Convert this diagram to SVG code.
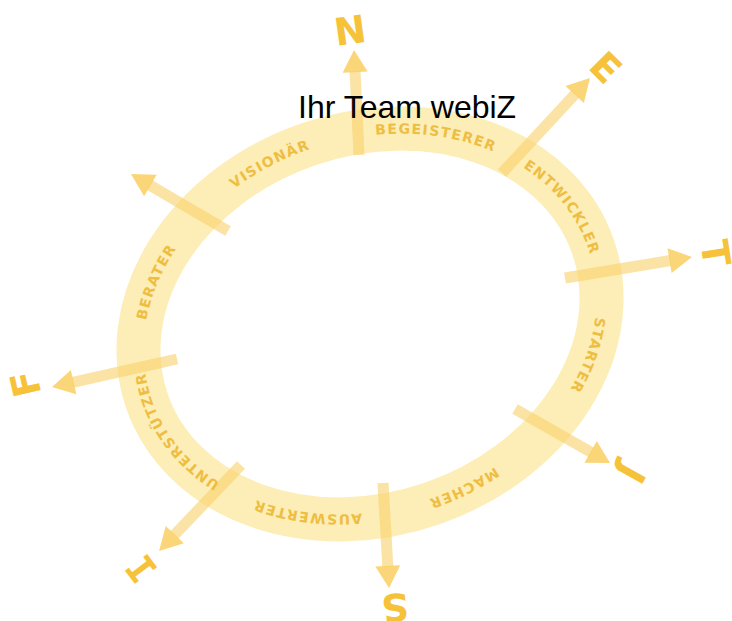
<svg xmlns="http://www.w3.org/2000/svg" width="732" height="621" viewBox="0 0 732 621">
<style>
.band{fill:none;stroke:#fdedb6;stroke-width:44}
.shaft{fill:#f9d06a;fill-opacity:0.6}
.head{fill:#f9cf60;fill-opacity:0.85}
.lbl{font-family:"DejaVu Sans",Verdana,sans-serif;font-weight:bold;font-size:14px;letter-spacing:1.5px;fill:#eebe42;dominant-baseline:central}
.big{font-family:"DejaVu Sans",Verdana,sans-serif;font-weight:bold;font-size:38px;fill:#f6c23a;text-anchor:middle}
.mono{font-family:"DejaVu Sans Mono",monospace}
.title{font-family:"Liberation Sans",Arial,sans-serif;font-size:32px;fill:#000}
</style>
<defs>
<path id="pBeg" d="M-40.97,-187.11 A236,190 0 0 1 232.41,-32.99"/>
<path id="pEnt" d="M122.60,-162.36 A236,190 0 0 1 201.66,98.71"/>
<path id="pSta" d="M227.86,-49.50 A236,190 0 0 1 61.48,183.45"/>
<path id="pMac" d="M192.13,110.33 A236,190 0 0 1 -137.05,154.68"/>
<path id="pAus" d="M45.03,186.50 A236,190 0 0 1 -231.66,36.25"/>
<path id="pUnt" d="M-130.93,158.08 A236,190 0 0 1 -196.35,-105.41"/>
<path id="pBer" d="M-230.83,39.50 A236,190 0 0 1 -49.06,-185.84"/>
<path id="pVis" d="M-196.80,-104.86 A236,190 0 0 1 130.25,-158.44"/>
</defs>

<g id="ring" transform="translate(370,324) rotate(-19)">
<ellipse class="band" cx="0" cy="0" rx="236" ry="190"/>
</g>

<g id="connectors">
<g id="arrow-N" transform="translate(359,155) rotate(-92.7)"><rect class="shaft" x="0" y="-5.5" width="84" height="11"/><polygon class="head" points="83,-12.5 105,0 83,12.5"/></g>
<g id="arrow-E" transform="translate(502,173) rotate(-47.2)"><rect class="shaft" x="0" y="-5.5" width="108" height="11"/><polygon class="head" points="107,-12.5 129.5,0 107,12.5"/></g>
<g id="arrow-T" transform="translate(565,278) rotate(-9.4)"><rect class="shaft" x="0" y="-5.5" width="107" height="11"/><polygon class="head" points="106,-12.5 128.7,0 106,12.5"/></g>
<g id="arrow-J" transform="translate(515,409) rotate(29.6)"><rect class="shaft" x="0" y="-5.5" width="88" height="11"/><polygon class="head" points="87,-12.5 109.3,0 87,12.5"/></g>
<g id="arrow-S" transform="translate(383,483) rotate(86.7)"><rect class="shaft" x="0" y="-5.5" width="84" height="11"/><polygon class="head" points="83,-12.5 105.2,0 83,12.5"/></g>
<g id="arrow-I" transform="translate(241,465) rotate(133.6)"><rect class="shaft" x="0" y="-5.5" width="97" height="11"/><polygon class="head" points="96,-12.5 118.8,0 96,12.5"/></g>
<g id="arrow-F" transform="translate(177,359) rotate(167.4)"><rect class="shaft" x="0" y="-5.5" width="107" height="11"/><polygon class="head" points="106,-12.5 128.1,0 106,12.5"/></g>
<g id="arrow-P" transform="translate(228,231) rotate(-149.6)"><rect class="shaft" x="0" y="-5.5" width="91" height="11"/><polygon class="head" points="90,-12.5 112.5,0 90,12.5"/></g>
</g>

<g id="ring-labels" transform="translate(370,324) rotate(-19)">
<g id="lbl-begeisterer"><text class="lbl"><textPath href="#pBeg" startOffset="50%" text-anchor="middle">BEGEISTERER</textPath></text></g>
<g id="lbl-entwickler"><text class="lbl"><textPath href="#pEnt" startOffset="50%" text-anchor="middle">ENTWICKLER</textPath></text></g>
<g id="lbl-starter"><text class="lbl"><textPath href="#pSta" startOffset="50%" text-anchor="middle">STARTER</textPath></text></g>
<g id="lbl-macher"><text class="lbl"><textPath href="#pMac" startOffset="50%" text-anchor="middle">MACHER</textPath></text></g>
<g id="lbl-auswerter"><text class="lbl"><textPath href="#pAus" startOffset="50%" text-anchor="middle">AUSWERTER</textPath></text></g>
<g id="lbl-unterstuetzer"><text class="lbl"><textPath href="#pUnt" startOffset="50%" text-anchor="middle">UNTERSTÜTZER</textPath></text></g>
<g id="lbl-berater"><text class="lbl"><textPath href="#pBer" startOffset="50%" text-anchor="middle">BERATER</textPath></text></g>
<g id="lbl-visionaer"><text class="lbl"><textPath href="#pVis" startOffset="50%" text-anchor="middle">VISIONÄR</textPath></text></g>
</g>

<g id="letters">
<g id="letter-N" transform="translate(350,30) rotate(-8)"><text class="big" x="0" y="14">N</text></g>
<g id="letter-E" transform="translate(606,67) rotate(45)"><text class="big" x="0" y="14">E</text></g>
<g id="letter-T" transform="translate(716,253) rotate(81)"><text class="big" x="0" y="14">T</text></g>
<g id="letter-J" transform="translate(632,474) rotate(119)"><text class="big" x="0" y="14">J</text></g>
<g id="letter-S" transform="translate(395,608) rotate(176)"><text class="big" x="0" y="14">S</text></g>
<g id="letter-I" transform="translate(141,569) rotate(-127)"><text class="big mono" x="0" y="14">I</text></g>
<g id="letter-F" transform="translate(25,384) rotate(-103)"><text class="big" x="0" y="14">F</text></g>
</g>

<g id="title"><text class="title" x="298" y="118">Ihr Team webiZ</text></g>
</svg>
